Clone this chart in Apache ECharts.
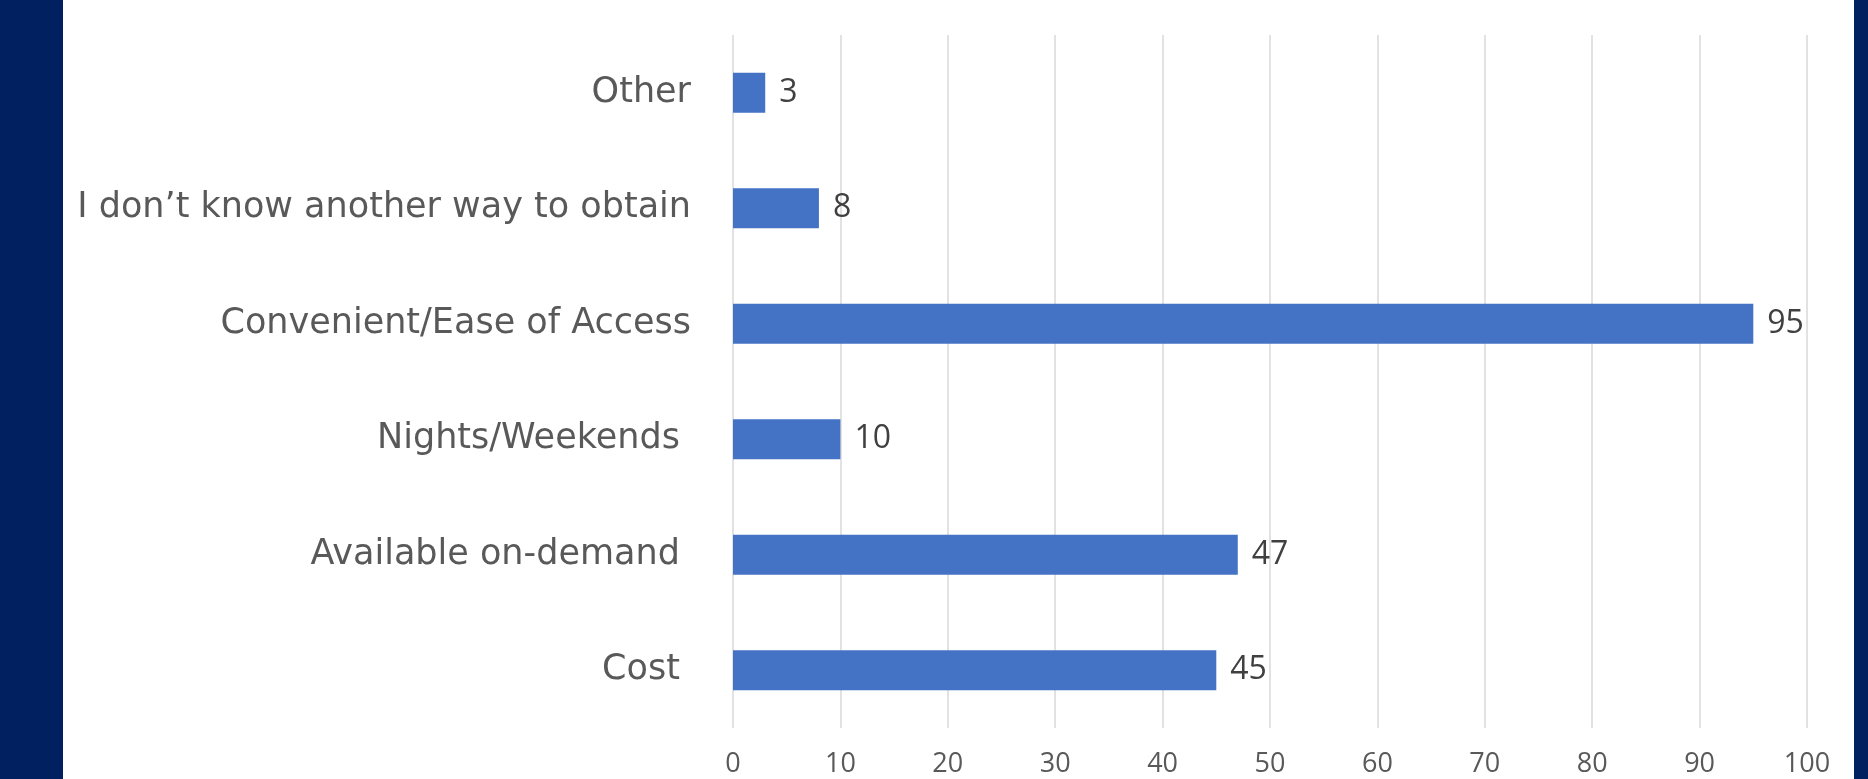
<!DOCTYPE html>
<html>
<head>
<meta charset="utf-8">
<script src="https://cdn.jsdelivr.net/npm/echarts@6/dist/echarts.min.js"></script>
<style>
html,body{margin:0;padding:0;background:#002060;}
#chart{width:1868px;height:779px;}
</style>
</head>
<body>
<div id="chart"></div>
<script>
const categories = ["Other", "I don\u2019t know another way to obtain", "Convenient/Ease of Access", "Nights/Weekends ", "Available on-demand ", "Cost "];
const values = [3, 8, 95, 10, 47, 45];
const axisMin = 0;
const axisMax = 100;
const axisStep = 10;

const chart = echarts.init(document.getElementById('chart'), null, {renderer: 'canvas'});
chart.setOption({
  backgroundColor: '#002060',
  animation: false,
  graphic: [{
    type: 'rect',
    left: 63, top: 0,
    shape: {width: 1791, height: 779},
    style: {fill: '#ffffff'},
    z: -10
  }],
  grid: {left: 733, right: 61, top: 35, bottom: 51, containLabel: false},
  xAxis: {
    type: 'value',
    min: axisMin, max: axisMax, interval: axisStep,
    axisLine: {show: false},
    axisTick: {show: false},
    splitLine: {show: true, lineStyle: {color: '#d9d9d9', width: 1.5}},
    axisLabel: {color: '#595959', fontFamily: 'Open Sans', fontSize: 27, margin: 23}
  },
  yAxis: {
    type: 'category',
    data: categories,
    inverse: true,
    axisLine: {show: false},
    axisTick: {show: false},
    axisLabel: {color: '#595959', fontFamily: 'DejaVu Sans', fontSize: 35, margin: 42, padding: [6, 0, 0, 0]}
  },
  series: [{
    type: 'bar',
    data: values,
    barWidth: 40,
    itemStyle: {color: '#4472C4'},
    label: {show: true, position: 'right', distance: 14, color: '#404040', fontFamily: 'Open Sans', fontSize: 32}
  }]
});
</script>
</body>
</html>
